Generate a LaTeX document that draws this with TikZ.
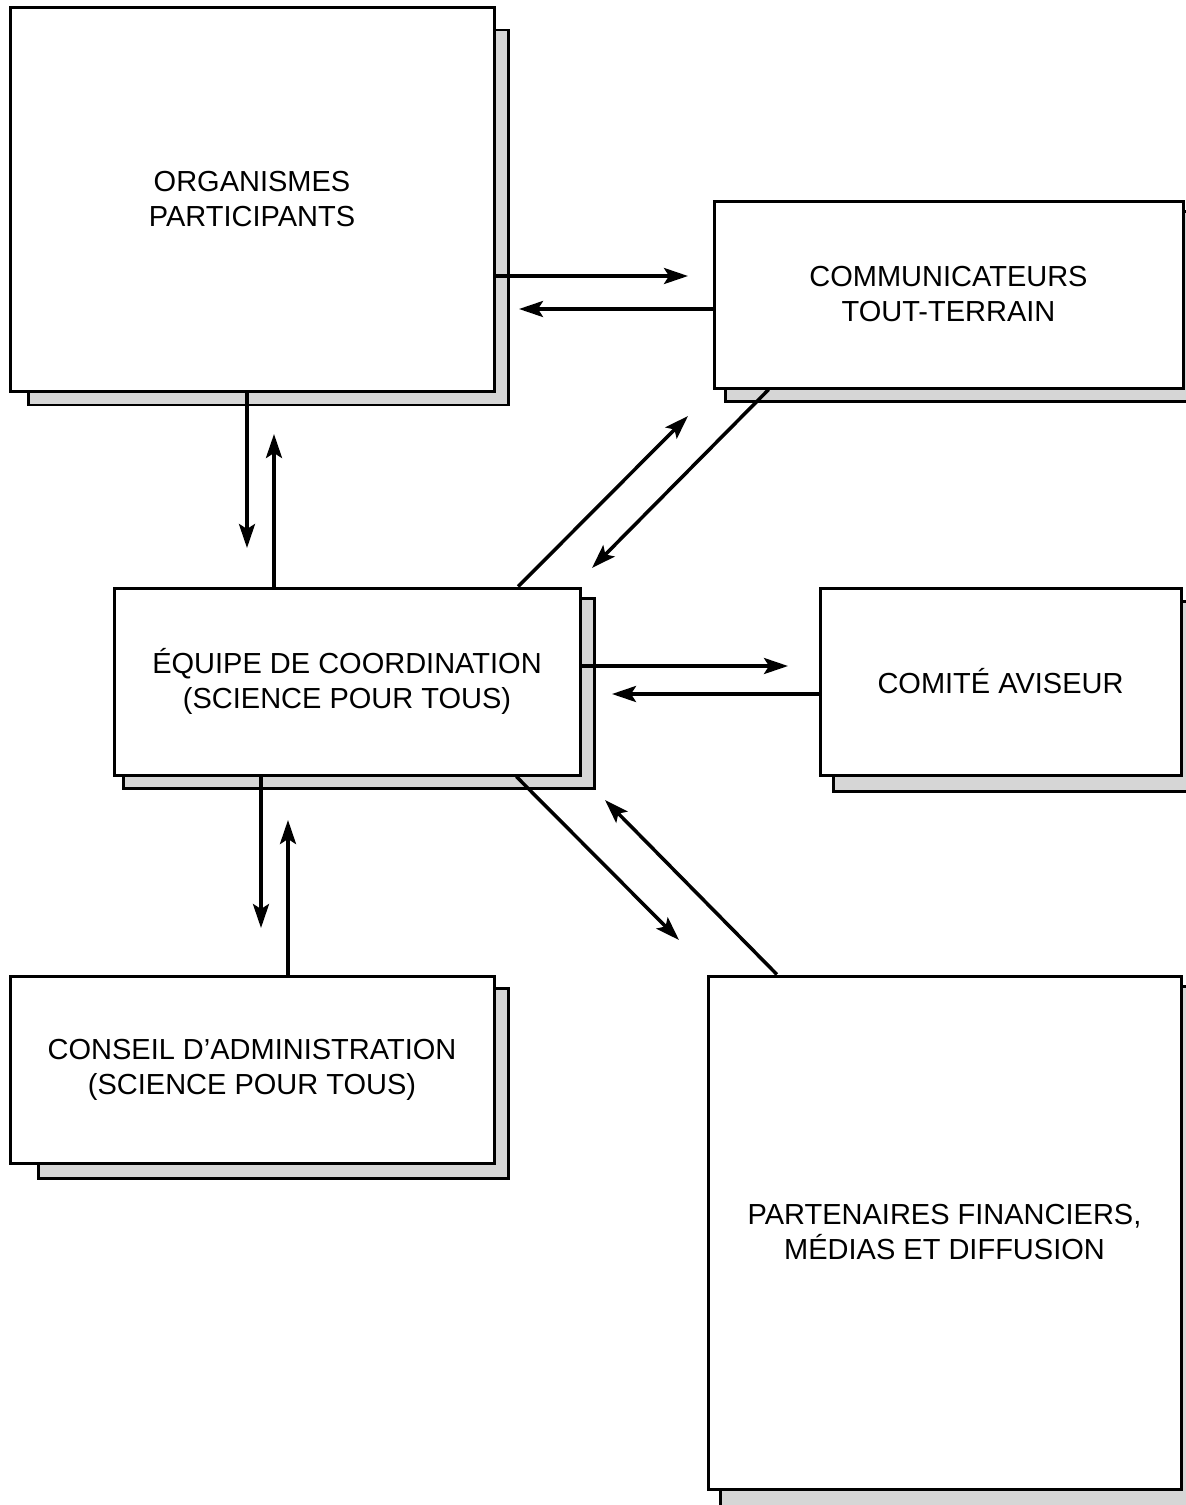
\documentclass[tikz,border=0pt]{standalone}
\usepackage{fontspec}
\setmainfont{Liberation Sans}
\usepackage{tikz}
\usetikzlibrary{arrows.meta}
\usetikzlibrary{calc}
\usetikzlibrary{backgrounds}

\begin{document}
\begin{tikzpicture}[x=0.5pt,y=-0.5pt,
    box/.style={draw, line width=1.5pt, fill=white, align=center, inner sep=0pt,
      font=\fontsize{14.5pt}{17.5pt}\selectfont},
    shadowbox/.style={draw, line width=1.4pt, fill=black!16},
    arr/.style={line width=1.75pt, -{Stealth[length=12pt,width=8pt,inset=2.5pt]}}]
  \clip (0,0) rectangle (1186,1505);
  % boxes
  \node [box, minimum width=242pt, minimum height=192pt] (org) at (252,199.5)
    {ORGANISMES\\PARTICIPANTS};
  \node [box, minimum width=234.5pt, minimum height=93.5pt] (comm) at (948.5,294.5)
    {COMMUNICATEURS\\TOUT-TERRAIN};
  \node [box, minimum width=233pt, minimum height=93.5pt] (equipe) at (347,681.5)
    {ÉQUIPE DE COORDINATION\\(SCIENCE POUR TOUS)};
  \node [box, minimum width=180.5pt, minimum height=93.5pt] (comite) at (1000.5,681.5)
    {COMITÉ AVISEUR};
  \node [box, minimum width=242pt, minimum height=93.5pt] (conseil) at (252,1069.5)
    {CONSEIL D’ADMINISTRATION\\(SCIENCE POUR TOUS)};
  \node [box, minimum width=236.5pt, minimum height=256.5pt] (part) at (944.5,1232.5)
    {PARTENAIRES FINANCIERS,\\MÉDIAS ET DIFFUSION};
  % shadows
  \begin{scope}[on background layer]
    \foreach \n/\l/\t/\b in {org/20/24/12, comm/13/12/12, equipe/11/12/12,
                             comite/15/15/15, conseil/30/14/14, part/14/12/30}
      \draw [shadowbox] ([shift={(\l,\b)}]\n.south west) rectangle ([shift={(13,\t)}]\n.north east);
  \end{scope}
  % arrow tips
  \coordinate (tipA) at (688,276);
  \coordinate (tipB) at (519,309);
  \coordinate (tipC) at (247,548);
  \coordinate (tipD) at (274,434);
  \coordinate (tipE) at (688,416);
  \coordinate (tipF) at (592,568);
  \coordinate (tipG) at (788,666);
  \coordinate (tipH) at (612,694);
  \coordinate (tipI) at (261,928);
  \coordinate (tipJ) at (288,820);
  \coordinate (tipK) at (679,940);
  \coordinate (tipL) at (605,800);
  % connectors
  \draw [arr] (org.east |- tipA) -- (tipA);
  \draw [arr] (comm.west |- tipB) -- (tipB);
  \draw [arr] (org.south -| tipC) -- (tipC);
  \draw [arr] (equipe.north -| tipD) -- (tipD);
  \draw [arr] ($(equipe.north west)!.865!(equipe.north east)$) -- (tipE);
  \draw [arr] ($(comm.south west)!.119!(comm.south east)$) -- (tipF);
  \draw [arr] (equipe.east |- tipG) -- (tipG);
  \draw [arr] (comite.west |- tipH) -- (tipH);
  \draw [arr] (equipe.south -| tipI) -- (tipI);
  \draw [arr] (conseil.north -| tipJ) -- (tipJ);
  \draw [arr] ($(equipe.south west)!.861!(equipe.south east)$) -- (tipK);
  \draw [arr] ($(part.north west)!.148!(part.north east)$) -- (tipL);
\end{tikzpicture}
\end{document}
